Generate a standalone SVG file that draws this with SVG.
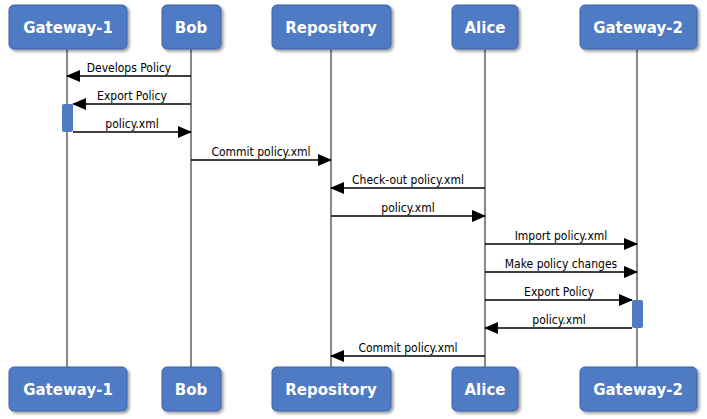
<svg xmlns="http://www.w3.org/2000/svg" width="707" height="419" viewBox="0 0 707 419">
<defs>
<style>
.box{fill:#4f7ac4;stroke:#3d63a8;stroke-width:1}
.bt{font-family:"DejaVu Sans",sans-serif;font-size:15px;fill:#fff;text-anchor:middle;font-weight:bold}
.life{stroke:#888;stroke-width:2}
.msg{stroke:#000;stroke-width:1.5;fill:none;marker-end:url(#ah)}
.lt{font-family:"DejaVu Sans Condensed","DejaVu Sans",sans-serif;font-size:12px;fill:#000;text-anchor:middle}
.act{fill:#4f7ac4}
</style>
<marker id="ah" markerWidth="14" markerHeight="12" refX="13" refY="6" orient="auto" markerUnits="userSpaceOnUse"><path d="M0,0L14,6L0,12Z" fill="#000"/></marker>
<filter id="sh" x="-10%" y="-10%" width="130%" height="140%"><feDropShadow dx="2" dy="2" stdDeviation="1.5" flood-opacity="0.4"/></filter>
</defs>
<rect width="707" height="419" fill="#fff"/>
<g id="lifelines">
<line class="life" x1="67" y1="49" x2="67" y2="367"/>
<line class="life" x1="191" y1="49" x2="191" y2="367"/>
<line class="life" x1="331" y1="49" x2="331" y2="367"/>
<line class="life" x1="485" y1="49" x2="485" y2="367"/>
<line class="life" x1="637" y1="49" x2="637" y2="367"/>
</g>
<g id="activations">
<rect class="act" x="62" y="104" width="11" height="28" rx="2"/>
<rect class="act" x="632" y="300" width="11" height="28" rx="2"/>
</g>
<g id="Gateway-1"><rect class="box" filter="url(#sh)" x="9" y="5" width="118" height="44" rx="5"/><text class="bt" x="68" y="33">Gateway-1</text>
<rect class="box" filter="url(#sh)" x="9" y="367" width="118" height="44" rx="5"/><text class="bt" x="68" y="395">Gateway-1</text></g>
<g id="Bob"><rect class="box" filter="url(#sh)" x="162" y="5" width="59" height="44" rx="5"/><text class="bt" x="191" y="33">Bob</text>
<rect class="box" filter="url(#sh)" x="162" y="367" width="59" height="44" rx="5"/><text class="bt" x="191" y="395">Bob</text></g>
<g id="Repository"><rect class="box" filter="url(#sh)" x="272" y="5" width="119" height="44" rx="5"/><text class="bt" x="331" y="33">Repository</text>
<rect class="box" filter="url(#sh)" x="272" y="367" width="119" height="44" rx="5"/><text class="bt" x="331" y="395">Repository</text></g>
<g id="Alice"><rect class="box" filter="url(#sh)" x="452" y="5" width="66" height="44" rx="5"/><text class="bt" x="485" y="33">Alice</text>
<rect class="box" filter="url(#sh)" x="452" y="367" width="66" height="44" rx="5"/><text class="bt" x="485" y="395">Alice</text></g>
<g id="Gateway-2"><rect class="box" filter="url(#sh)" x="580" y="5" width="117" height="44" rx="5"/><text class="bt" x="638" y="33">Gateway-2</text>
<rect class="box" filter="url(#sh)" x="580" y="367" width="117" height="44" rx="5"/><text class="bt" x="638" y="395">Gateway-2</text></g>
<g id="connectors">
<line class="msg" x1="191" y1="76" x2="67" y2="76"/><text class="lt" x="129" y="72">Develops Policy</text>
<line class="msg" x1="191" y1="104" x2="73" y2="104"/><text class="lt" x="132" y="100">Export Policy</text>
<line class="msg" x1="73" y1="132" x2="191" y2="132"/><text class="lt" x="132" y="128">policy.xml</text>
<line class="msg" x1="191" y1="160" x2="331" y2="160"/><text class="lt" x="261" y="156">Commit policy.xml</text>
<line class="msg" x1="485" y1="188" x2="331" y2="188"/><text class="lt" x="408" y="184">Check-out policy.xml</text>
<line class="msg" x1="331" y1="216" x2="485" y2="216"/><text class="lt" x="408" y="212">policy.xml</text>
<line class="msg" x1="485" y1="244" x2="637" y2="244"/><text class="lt" x="561" y="240">Import policy.xml</text>
<line class="msg" x1="485" y1="272" x2="637" y2="272"/><text class="lt" x="561" y="268">Make policy changes</text>
<line class="msg" x1="485" y1="300" x2="632" y2="300"/><text class="lt" x="559" y="296">Export Policy</text>
<line class="msg" x1="632" y1="328" x2="485" y2="328"/><text class="lt" x="559" y="324">policy.xml</text>
<line class="msg" x1="485" y1="356" x2="331" y2="356"/><text class="lt" x="408" y="352">Commit policy.xml</text>
</g>
</svg>
